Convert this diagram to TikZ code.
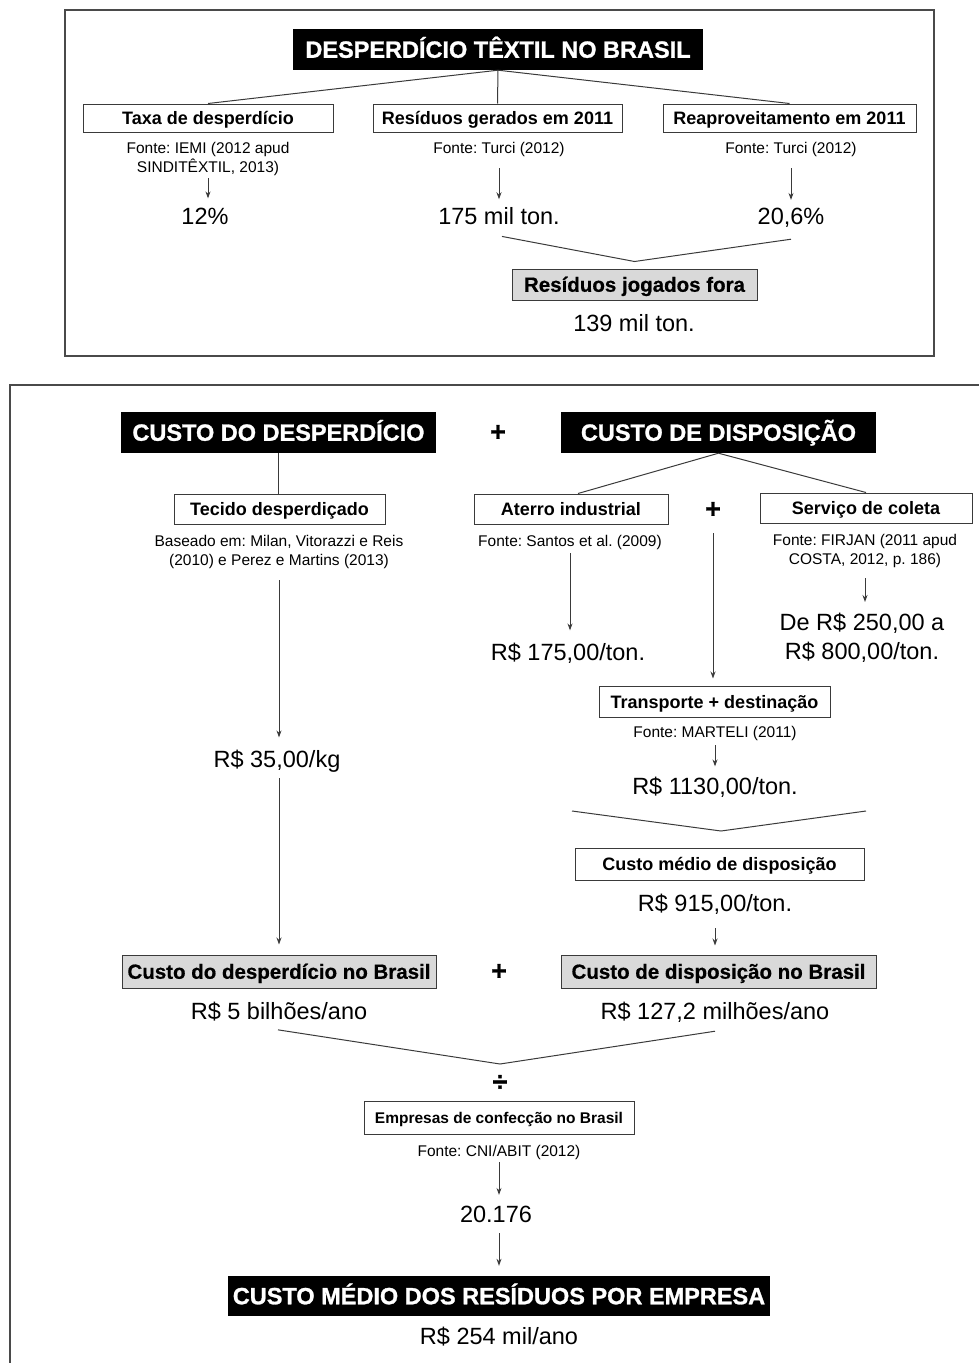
\documentclass[tikz,border=0pt]{standalone}
\usepackage{fontspec}
\setmainfont{Liberation Sans}
\newfontfamily\heavyfont[FakeBold=1.2]{Liberation Sans Bold}
\newfontfamily\semiheavyfont[FakeBold=0.6]{Liberation Sans Bold}
\usetikzlibrary{arrows.meta}
\definecolor{linegray}{HTML}{3A3A3A}
\definecolor{framegray}{HTML}{4A4A4A}
\definecolor{boxgray}{HTML}{D9D9D9}
\begin{document}
\frenchspacing
\begin{tikzpicture}[x=1pt,y=-1pt,
  panel/.style={draw=framegray,line width=1.1pt},
  blackbox/.style={fill=black,text=white,inner sep=0pt,font=\fontsize{23.5}{27}\heavyfont,text height=16.5pt,text depth=0pt},
  wbox/.style={draw=linegray,line width=1pt,fill=white,inner sep=0pt,font=\fontsize{18}{22}\selectfont\bfseries,text height=13pt,text depth=0pt},
  gbox/.style={wbox,fill=boxgray,font=\fontsize{20.5}{23}\semiheavyfont,text height=14.5pt},
  src/.style={inner sep=0pt,align=center,font=\fontsize{15.5}{19.5}\selectfont},
  val/.style={inner sep=0pt,align=center,font=\fontsize{23.5}{29}\selectfont},
  op/.style={inner sep=0pt,font=\fontsize{27}{27}\heavyfont},
  conn/.style={draw=linegray,line width=1pt},
  arr/.style={conn,-{Stealth[length=7pt,width=5pt]}}
]
\useasboundingbox (0,0) rectangle (979,1363);

% ---------- top panel ----------
\draw[panel] (65,10) rectangle (934,356);
\node[blackbox,minimum width=410pt,minimum height=41pt] (t1) at (498,49.5) {DESPERDÍCIO TÊXTIL NO BRASIL};
\node[wbox,minimum width=250pt,minimum height=28pt] (b1) at (208,118) {Taxa de desperdício};
\node[wbox,minimum width=249pt,minimum height=28pt] (b2) at (497.5,118) {Resíduos gerados em 2011};
\node[wbox,minimum width=253pt,minimum height=28pt] (b3) at (789.5,118) {Reaproveitamento em 2011};
\draw[conn] (t1.south) -- (b1.north);
\draw[conn] (t1.south) -- (b2.north);
\draw[conn] (t1.south) -- (b3.north);

\node[src,anchor=north] (s1) at (208,142) {Fonte: IEMI (2012 apud\\SINDITÊXTIL, 2013)};
\node[src,anchor=base] (s2) at (499,153) {Fonte: Turci (2012)};
\node[src,anchor=base] (s3) at (791,153) {Fonte: Turci (2012)};
\node[val,anchor=base] (v1) at (205,224) {12\%};
\node[val,anchor=base] (v2) at (499,224) {175 mil ton.};
\node[val,anchor=base] (v3) at (791,224) {20,6\%};
\draw[arr,shorten <=2pt,shorten >=9pt] (s1.south) -- (s1.south |- v1.north);
\draw[arr,shorten <=12pt,shorten >=7.5pt] (s2.south) -- (s2.south |- v2.north);
\draw[arr,shorten <=12pt,shorten >=7.5pt] (s3.south) -- (s3.south |- v3.north);

\node[gbox,minimum width=245pt,minimum height=31pt] (r) at (634.5,284.5) {Resíduos jogados fora};
\draw[conn] ([xshift=3pt,yshift=-12pt]v2.south) -- ([yshift=7pt]r.north) -- ([yshift=-12pt]v3.south);
\node[val,anchor=base] (v4) at (634,331) {139 mil ton.};

% ---------- bottom panel ----------
\draw[panel] (10,385) rectangle (995,1380);
\node[blackbox,minimum width=315pt,minimum height=41pt] (tb1) at (278.5,432.5) {CUSTO DO DESPERDÍCIO};
\node[op] (p1) at (498,433) {+};
\node[blackbox,minimum width=315pt,minimum height=41pt] (tb2) at (718.5,432.5) {CUSTO DE DISPOSIÇÃO};

\node[wbox,minimum width=211pt,minimum height=30pt] (tec) at (279.5,509) {Tecido desperdiçado};
\node[wbox,minimum width=194pt,minimum height=30pt] (ate) at (571,509) {Aterro industrial};
\node[op] (p2) at (713,510) {+};
\node[wbox,minimum width=212pt,minimum height=30pt] (ser) at (866,508) {Serviço de coleta};
\draw[conn] (tb1.south) -- (tb1.south |- tec.north);
\draw[conn] (tb2.south) -- ([xshift=7pt]ate.north);
\draw[conn] (tb2.south) -- (ser.north);

\node[src,anchor=north] (sb1) at (279,535) {Baseado em: Milan, Vitorazzi e Reis\\(2010) e Perez e Martins (2013)};
\node[src,anchor=base] (sb2) at (570,546) {Fonte: Santos et al. (2009)};
\node[src,anchor=north] (sb3) at (865,534) {Fonte: FIRJAN (2011 apud\\COSTA, 2012, p. 186)};

\node[val,anchor=base] (vkg) at (277,767) {R\$ 35,00/kg};
\draw[arr,shorten <=11pt,shorten >=12pt] (sb1.south) -- (sb1.south |- vkg.north);
\node[val,anchor=base] (v175) at (568,660) {R\$ 175,00/ton.};
\draw[arr,shorten <=4pt,shorten >=12pt] (sb2.south) -- (sb2.south |- v175.north);
\node[val,anchor=north] (vde) at (862,613) {De R\$ 250,00 a\\R\$ 800,00/ton.};
\draw[arr,shorten <=10pt,shorten >=11pt] (sb3.south) -- (sb3.south |- vde.north);

\node[wbox,minimum width=231pt,minimum height=31pt] (tra) at (714.5,701.5) {Transporte + destinação};
\draw[arr,shorten <=15pt,shorten >=7pt] (p2.south) -- (p2.south |- tra.north);
\node[src,anchor=base] (sm) at (715,737) {Fonte: MARTELI (2011)};
\node[val,anchor=base] (v1130) at (715,794) {R\$ 1130,00/ton.};
\draw[arr,shorten <=5pt,shorten >=10pt] (sm.south) -- (sm.south |- v1130.north);

\coordinate (w1) at (572,811);
\coordinate (w2) at (721,831);
\coordinate (w3) at (866,811);
\draw[conn] (w1) -- (w2) -- (w3);
\node[wbox,minimum width=289pt,minimum height=32pt] (med) at (719.5,864) {Custo médio de disposição};
\node[val,anchor=base] (v915) at (715,911) {R\$ 915,00/ton.};

\node[gbox,minimum width=314pt,minimum height=33pt] (g1) at (279,971.5) {Custo do desperdício no Brasil};
\node[op] (p3) at (499,972) {+};
\node[gbox,minimum width=315pt,minimum height=33pt] (g2) at (718.5,971.5) {Custo de disposição no Brasil};
\draw[arr,shorten <=6pt,shorten >=10pt] (sb1.south |- vkg.south) -- (sb1.south |- g1.north);
\draw[arr,shorten <=14pt,shorten >=9pt] (v915.south) -- (v915.south |- g2.north);

\node[val,anchor=base] (v5) at (279,1019) {R\$ 5 bilhões/ano};
\node[val,anchor=base] (v127) at (715,1019) {R\$ 127,2 milhões/ano};
\coordinate (w5) at (500,1064);
\draw[conn] ([xshift=-1pt,yshift=-9pt]v5.south) -- (w5) -- ([yshift=-9pt]v127.south);
\node[op] (dv) at (500,1083) {÷};

\node[wbox,font=\fontsize{15.5}{19}\selectfont\bfseries,text height=11pt,minimum width=270pt,minimum height=33pt] (emp) at (499,1117.5) {Empresas de confecção no Brasil};
\node[src,anchor=base] (sc) at (499,1156) {Fonte: CNI/ABIT (2012)};
\node[val,anchor=base] (v20) at (496,1222) {20.176};
\draw[arr,shorten <=3pt,shorten >=10.5pt] (sc.south) -- (sc.south |- v20.north);
\node[blackbox,minimum width=542pt,minimum height=40pt] (fin) at (499,1296) {CUSTO MÉDIO DOS RESÍDUOS POR EMPRESA};
\draw[arr,shorten <=11pt,shorten >=10pt] (sc.south |- v20.south) -- (sc.south |- fin.north);
\node[val,anchor=base] (v254) at (499,1344) {R\$ 254 mil/ano};
\end{tikzpicture}
\end{document}
